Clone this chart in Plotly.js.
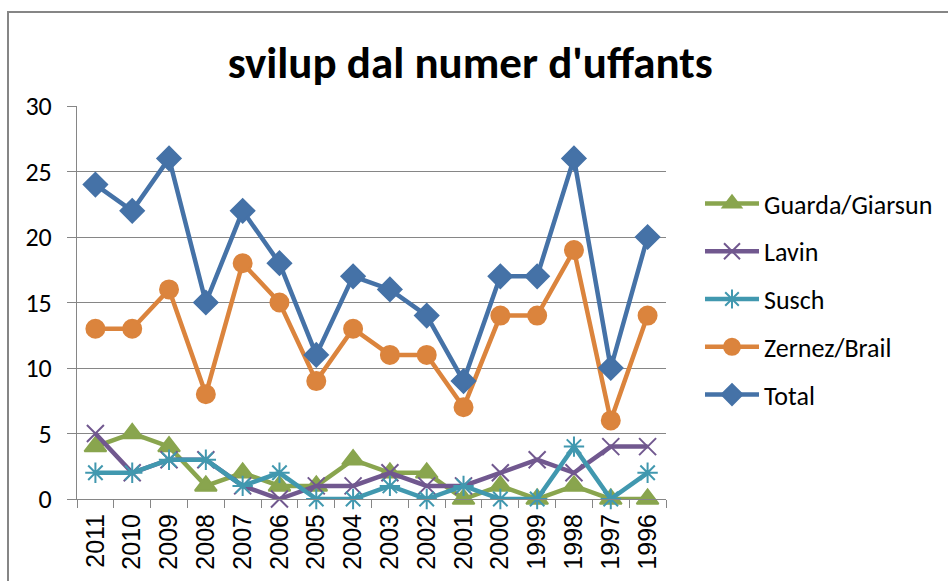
<!DOCTYPE html>
<html>
<head>
<meta charset="utf-8">
<script src="https://cdn.plot.ly/plotly-3.0.1.min.js"></script>
<style>html,body{margin:0;padding:0;background:#fff;}#chart{width:948px;height:581px;}</style>
</head>
<body>
<div id="chart"></div>
<script>
const years = ["2011","2010","2009","2008","2007","2006","2005","2004","2003","2002","2001","2000","1999","1998","1997","1996"];
const guarda = [4,5,4,1,2,1,1,3,2,2,0,1,0,1,0,0];
const lavin  = [5,2,3,3,1,0,1,1,2,1,1,2,3,2,4,4];
const susch  = [2,2,3,3,1,2,0,0,1,0,1,0,0,4,0,2];
const zernez = [13,13,16,8,18,15,9,13,11,11,7,14,14,19,6,14];
const total  = [24,22,26,15,22,18,11,17,16,14,9,17,17,26,10,20];

const fontFam = "Carlito, Calibri, 'DejaVu Sans Condensed', 'Liberation Sans', sans-serif";

function tr(name, y, color, symbol, size) {
  return {
    type: 'scatter', mode: 'lines+markers', name: name, x: years, y: y,
    legendgroup: name,
    line: {color: color, width: 4.5},
    marker: {symbol: symbol, size: size, color: color, line: {color: color, width: 2}},
    cliponaxis: false
  };
}

const data = [
  tr('Guarda/Giarsun', guarda, '#89A54E', 'triangle-up', 19),
  tr('Lavin', lavin, '#71588F', 'x-thin-open', 17),
  tr('Susch', susch, '#4198AF', 'asterisk-open', 17),
  tr('Zernez/Brail', zernez, '#DB843D', 'circle', 18),
  tr('Total', total, '#4572A7', 'diamond', 18)
];

const layout = {
  width: 948, height: 581,
  margin: {l: 77, r: 282, t: 106, b: 82, autoexpand: false},
  paper_bgcolor: '#fff', plot_bgcolor: '#fff',
  title: {text: "svilup dal numer d'uffants", font: {family: fontFam, size: 45, color: '#000', weight: 'bold'},
          x: 0.496, xanchor: 'center', xref: 'container', y: 0.893, yanchor: 'middle'},
  font: {family: fontFam, color: '#000'},
  xaxis: {
    type: 'category', range: [-0.5, 15.5], autorange: false,
    showgrid: false, showline: true, linecolor: '#868686', linewidth: 1,
    ticks: 'outside', tickson: 'boundaries', ticklen: 8, tickcolor: '#868686',
    tickangle: -90, tickfont: {family: "'Liberation Sans', Arial, sans-serif", size: 25, color: '#000'},
    ticklabelstandoff: 4
  },
  yaxis: {
    range: [0, 30], autorange: false, dtick: 5, showgrid: true, gridcolor: '#868686', gridwidth: 1,
    showline: true, linecolor: '#868686', linewidth: 1, zeroline: false,
    ticks: 'outside', ticklen: 9, tickcolor: '#868686',
    tickfont: {family: fontFam, size: 26, color: '#000'}, ticklabelstandoff: 10
  },
  showlegend: true,
  legend: {
    x: (700 - 77) / 589, xanchor: 'left', y: (499 - 180) / 393, yanchor: 'top',
    font: {family: fontFam, size: 26, color: '#000'},
    itemwidth: 54,
    traceorder: 'grouped', tracegroupgap: 11, bgcolor: 'rgba(0,0,0,0)'
  },
  shapes: [{
    type: 'rect', xref: 'paper', yref: 'paper',
    x0: -69/589, x1: 1.6, y0: -0.3, y1: 1 + 94/393,
    line: {color: '#868686', width: 2}, fillcolor: 'rgba(0,0,0,0)', layer: 'below'
  }]
};

Plotly.newPlot('chart', data, layout, {displayModeBar: false, staticPlot: true});
</script>
</body>
</html>
